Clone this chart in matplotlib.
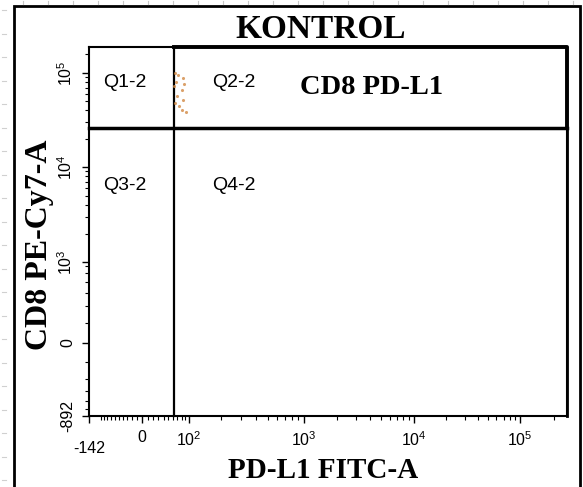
import numpy as np
import matplotlib
matplotlib.use("Agg")
import matplotlib.pyplot as plt
from matplotlib.patches import Rectangle

plt.rcParams['font.family'] = ['Liberation Sans', 'DejaVu Sans']
plt.rcParams['mathtext.fontset'] = 'custom'
plt.rcParams['mathtext.rm'] = 'Liberation Sans'

# axis (biexponential-like) anchors: data value -> position
x_vals = [-142, 0, 100, 1000, 1e4, 1e5, 262143]
x_pos = [89, 142, 189, 304, 414, 520, 567]
y_vals = [-892, 0, 1000, 1e4, 1e5, 262143]
y_pos = [71, 144, 225, 320, 414, 440]

x_major = [-142, 0, 100, 1000, 1e4, 1e5]
x_labels = ['-142', '0', r'$\mathregular{10^2}$', r'$\mathregular{10^3}$',
            r'$\mathregular{10^4}$', r'$\mathregular{10^5}$']
y_major = [-892, 0, 1000, 1e4, 1e5]
y_labels = ['-892', '0', r'$\mathregular{10^3}$', r'$\mathregular{10^4}$',
            r'$\mathregular{10^5}$']

# quadrant gate
gate_x = 62
gate_y = 2.6e4

# few events near the gate (PD-L1, CD8)
ev_x = [65, 72, 84, 67, 87, 63, 82, 69, 84, 65, 74, 82, 92]
ev_y = [1.0e5, 9.5e4, 8.8e4, 8.0e4, 7.6e4, 7.3e4, 6.6e4, 5.7e4, 5.2e4,
        4.8e4, 4.45e4, 4.05e4, 3.85e4]


def make_scale(vals, pos, w):
    u = np.arcsinh(np.array(vals, float) / w)
    p = np.array(pos, float)

    def fwd(v):
        return np.interp(np.arcsinh(np.asarray(v, float) / w), u, p,
                         left=p[0] - 1, right=p[-1] + 1)

    def inv(q):
        return w * np.sinh(np.interp(np.asarray(q, float), p, u))
    return fwd, inv


fig = plt.figure(figsize=(5.83, 4.87), dpi=100)
ax = fig.add_axes([89/583, 71/487, 478/583, 369/487])

ax.set_xscale('function', functions=make_scale(x_vals, x_pos, 80))
ax.set_yscale('function', functions=make_scale(y_vals, y_pos, 300))
ax.set_xlim(x_vals[0], x_vals[-1])
ax.set_ylim(y_vals[0], y_vals[-1])

# minor ticks
xminor = [v for v in range(-100, 100, 10) if v != 0]
for d in [100, 1000, 10000, 100000]:
    for k in range(2, 10):
        if d * k < 262143:
            xminor.append(d * k)
yminor = [v for v in range(-750, 1000, 150) if v != 0]
for d in [1000, 10000, 100000]:
    for k in range(2, 10):
        if d * k < 262143:
            yminor.append(d * k)

ax.set_xticks(x_major)
ax.set_xticklabels(x_labels)
ax.set_xticks(xminor, minor=True)
ax.set_yticks(y_major)
ax.set_yticklabels(y_labels, rotation=90, va='center')
ax.set_yticks(yminor, minor=True)

ax.tick_params(which='major', direction='out', length=5, width=1, labelsize=11.5, pad=5)
ax.tick_params(which='minor', direction='out', length=3, width=0.8)
ax.xaxis.get_major_ticks()[0].set_pad(13)
for s in ax.spines.values():
    s.set_linewidth(1.5)

# gate lines
ax.plot([gate_x, gate_x], [y_vals[0], y_vals[-1]], color='black', lw=1.6, clip_on=False)
ax.plot([x_vals[0], x_vals[-1]], [gate_y, gate_y], color='black', lw=2.5, clip_on=False)
ax.plot([gate_x, x_vals[-1], x_vals[-1]], [y_vals[-1], y_vals[-1], gate_y],
        color='black', lw=2.8, clip_on=False, solid_capstyle='projecting')
ax.plot([x_vals[-1], x_vals[-1]], [y_vals[0], gate_y], color='black', lw=2.0, clip_on=False)

ax.scatter(ev_x, ev_y, s=5, color='#d28a45', alpha=0.8, linewidths=0, zorder=3)

ax.text(0.029, 0.905, 'Q1-2', transform=ax.transAxes, fontsize=14, va='center')
ax.text(0.257, 0.905, 'Q2-2', transform=ax.transAxes, fontsize=14, va='center')
ax.text(0.029, 0.626, 'Q3-2', transform=ax.transAxes, fontsize=14, va='center')
ax.text(0.257, 0.626, 'Q4-2', transform=ax.transAxes, fontsize=14, va='center')
ax.text(0.592, 0.889, 'CD8 PD-L1', transform=ax.transAxes, fontsize=20.5,
        fontweight='bold', family='Liberation Serif', ha='center', va='center')

fig.text(321/583, 1 - 30/487, 'KONTROL', fontsize=24, fontweight='bold',
         family='Liberation Serif', ha='center', va='center')
fig.text(323/583, 1 - 471/487, 'PD-L1 FITC-A', fontsize=21, fontweight='bold',
         family='Liberation Serif', ha='center', va='center')
fig.text(40/583, 1 - 245/487, 'CD8 PE-Cy7-A', fontsize=23, fontweight='bold',
         family='Liberation Serif', ha='center', va='center', rotation=90)

# outer frame
fig.add_artist(Rectangle((14/583, -0.05), 566/583, 1.05 - 6/487, transform=fig.transFigure,
                         fill=False, lw=2, edgecolor='black'))
for px in np.arange(23, 583, 25):
    fig.add_artist(plt.Line2D([px/583, px/583], [1 - 1/487, 1 - 4/487],
                              transform=fig.transFigure, color='#c8c8c8', lw=0.8))
for py in np.arange(10, 487, 23.5):
    fig.add_artist(plt.Line2D([2/583, 6/583], [1 - py/487, 1 - py/487],
                              transform=fig.transFigure, color='#d0d0d0', lw=0.8))

fig.savefig('out.png', dpi=100)
